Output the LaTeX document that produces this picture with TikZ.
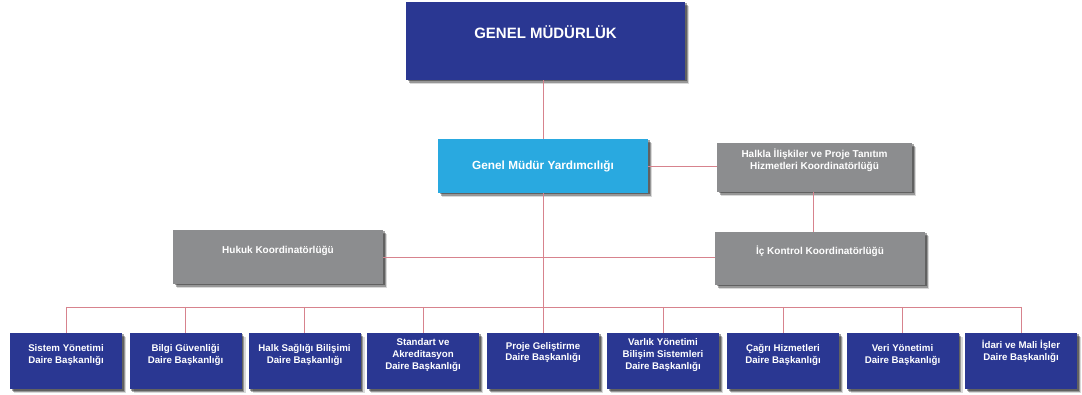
\documentclass[tikz,border=0pt]{standalone}
\usepackage{fontspec}
\setmainfont{Liberation Sans}
\usetikzlibrary{shadows}
\definecolor{navy}{HTML}{2A3792}
\definecolor{sky}{HTML}{29A9E0}
\definecolor{greybox}{HTML}{8C8D8F}
\definecolor{linkc}{HTML}{D7838D}
\newcommand{\boxtxt}[4]{\parbox[c][#2][t]{#1}{\centering\vspace*{#3}\rule{0pt}{1em}#4\par}}
\tikzset{
  box/.style={rectangle, inner sep=0pt, text=white,
    drop shadow={shadow xshift=1.5pt, shadow yshift=-1.5pt, opacity=0.35, fill=black},
    drop shadow={shadow xshift=2.8pt, shadow yshift=-2.8pt, opacity=0.3, fill=black},
    drop shadow={shadow xshift=4pt, shadow yshift=-4pt, opacity=0.15, fill=black}},
  topbox/.style={box, fill=navy, font=\bfseries\fontsize{15}{18}\selectfont},
  deputy/.style={box, fill=sky, font=\bfseries\fontsize{11.8}{14}\selectfont},
  coord/.style={box, fill=greybox, font=\bfseries\fontsize{10}{12.3}\selectfont},
  dept/.style={box, fill=navy, font=\bfseries\fontsize{9.7}{11.8}\selectfont},
  conn/.style={draw=linkc, line width=0.8pt}
}
\begin{document}
\begin{tikzpicture}[x=1pt,y=-1pt]
\fill[white] (0,0) rectangle (1082,395);
\useasboundingbox (0,0) rectangle (1082,395);

\node[topbox] (gm) at (545.5,41) {\boxtxt{279pt}{78pt}{21.4pt}{GENEL MÜDÜRLÜK}};
\node[deputy] (gmy) at (543,166) {\boxtxt{210pt}{54pt}{19pt}{Genel Müdür Yardımcılığı}};
\node[coord] (halk) at (814.5,167.5) {\boxtxt{195pt}{49pt}{4.6pt}{Halkla İlişkiler ve Proje Tanıtım\\Hizmetleri Koordinatörlüğü}};
\node[coord] (ic) at (820,258.5) {\boxtxt{210pt}{53pt}{13pt}{İç Kontrol Koordinatörlüğü}};
\node[coord] (hukuk) at (278,257) {\boxtxt{210pt}{54pt}{13.5pt}{Hukuk Koordinatörlüğü}};

\node[dept] (b1) at (66,361) {\boxtxt{112pt}{56pt}{8.5pt}{Sistem Yönetimi\\Daire Başkanlığı}};
\node[dept] (b2) at (185.5,361) {\boxtxt{112pt}{56pt}{8.5pt}{Bilgi Güvenliği\\Daire Başkanlığı}};
\node[dept] (b3) at (304.5,361) {\boxtxt{112pt}{56pt}{8.5pt}{Halk Sağlığı Bilişimi\\Daire Başkanlığı}};
\node[dept] (b4) at (423,361) {\boxtxt{112pt}{56pt}{3pt}{Standart ve\\Akreditasyon\\Daire Başkanlığı}};
\node[dept] (b5) at (543,361) {\boxtxt{112pt}{56pt}{6.5pt}{Proje Geliştirme\\Daire Başkanlığı}};
\node[dept] (b6) at (663,361) {\boxtxt{112pt}{56pt}{3pt}{Varlık Yönetimi\\Bilişim Sistemleri\\Daire Başkanlığı}};
\node[dept] (b7) at (783,361) {\boxtxt{112pt}{56pt}{8.5pt}{Çağrı Hizmetleri\\Daire Başkanlığı}};
\node[dept] (b8) at (902.5,361) {\boxtxt{112pt}{56pt}{8.5pt}{Veri Yönetimi\\Daire Başkanlığı}};
\node[dept] (b9) at (1021,361) {\boxtxt{112pt}{56pt}{6pt}{İdari ve Mali İşler\\Daire Başkanlığı}};

\coordinate (bus) at (542,307);

\draw[conn] (gm.south -| gmy.north) -- (gmy.north);
\draw[conn] (gmy.east) -- (gmy.east -| halk.west);
\draw[conn] (halk.south -| 813,0) -- (ic.north -| 813,0);
\draw[conn] (hukuk.east) -- (hukuk.east -| ic.west);
\draw[conn] (gmy.south) -- (gmy.south |- bus);
\draw[conn] (b1.north |- bus) -- (b9.north |- bus);
\foreach \b in {b1,b2,b3,b4,b5,b6,b7,b8,b9}{
  \draw[conn] (\b.north |- bus) -- (\b.north);
}
\end{tikzpicture}
\end{document}
